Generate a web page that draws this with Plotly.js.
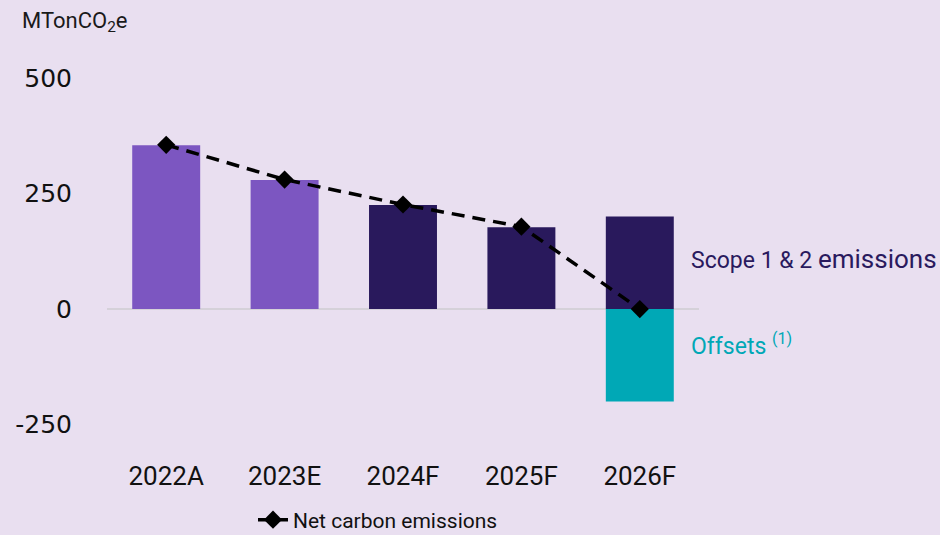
<!DOCTYPE html>
<html>
<head>
<meta charset="utf-8">
<script src="https://cdn.plot.ly/plotly-3.0.1.min.js"></script>
<style>
html,body{margin:0;padding:0;background:#e9dff0;}
#chart{width:940px;height:535px;}
</style>
</head>
<body>
<div id="chart"></div>
<script>
const categories = ['2022A', '2023E', '2024F', '2025F', '2026F'];
const scopeEmissions = [354, 279, 225, 177, 200];
const offsets = [null, null, null, null, -200];
const netEmissions = [355, 280, 226, 178, 0];
const scopeColors = ['#7c56c1', '#7c56c1', '#29195c', '#29195c', '#29195c'];
const yTickVals = [-250, 0, 250, 500];
const yTickText = ['-250', '0', '250', '500'];

const condensed = '"Liberation Sans Narrow", Roboto, sans-serif';

const traces = [
  {
    type: 'bar', name: 'Scope 1 & 2 emissions', x: categories, y: scopeEmissions,
    marker: {color: scopeColors}, showlegend: false, hoverinfo: 'x+y'
  },
  {
    type: 'bar', name: 'Offsets', x: categories, y: offsets,
    marker: {color: '#00a8b6'}, showlegend: false, hoverinfo: 'x+y'
  },
  {
    type: 'scatter', mode: 'lines+markers', name: 'Net carbon emissions',
    x: categories, y: netEmissions,
    line: {color: '#000000', width: 3.5, dash: '13px,8px'},
    marker: {symbol: 'diamond', size: 14, color: '#000000'}
  }
];

const layout = {
  width: 940, height: 535,
  margin: {l: 107, r: 241, t: 50, b: 83},
  paper_bgcolor: '#e9dff0',
  plot_bgcolor: 'rgba(0,0,0,0)',
  barmode: 'relative',
  bargap: 0.426,
  title: {
    text: 'MTonCO<sub>2</sub>e',
    x: 22/940, xanchor: 'left', xref: 'container',
    y: 1 - 20/535, yanchor: 'middle', yref: 'container',
    font: {family: condensed, size: 22, color: '#1a1a1a'}
  },
  xaxis: {
    type: 'category',
    range: [-0.5, 4.5],
    showgrid: false, showline: false, zeroline: false,
    ticks: '',
    ticklabelstandoff: 6,
    tickfont: {family: condensed, size: 26, color: '#111111'}
  },
  yaxis: {
    range: [-309, 560],
    tickvals: yTickVals, ticktext: yTickText,
    showgrid: false, showline: false,
    zeroline: true, zerolinecolor: '#d5d1d9', zerolinewidth: 2,
    ticks: '',
    ticklabelstandoff: 34,
    tickfont: {family: '"DejaVu Sans", sans-serif', size: 25, color: '#111111'}
  },
  showlegend: true,
  legend: {
    orientation: 'h',
    xref: 'container', yref: 'container',
    x: 253/940, xanchor: 'left',
    y: 1 - 520/535, yanchor: 'middle',
    bgcolor: 'rgba(0,0,0,0)',
    font: {family: condensed, size: 21, color: '#111111'}
  },
  annotations: [
    {
      xref: 'paper', yref: 'y', x: (689-107)/592, y: 108,
      xanchor: 'left', yanchor: 'middle', showarrow: false,
      text: 'Scope 1 &amp; 2 <span style="font-size:26px">emissions</span>',
      font: {family: condensed, size: 23, color: '#2a1a5e'}
    },
    {
      xref: 'paper', yref: 'y', x: (689-107)/592, y: -76,
      xanchor: 'left', yanchor: 'middle', showarrow: false,
      text: 'Offsets <sup>(1)</sup>',
      font: {family: condensed, size: 23, color: '#00a8b6'}
    }
  ]
};

Plotly.newPlot('chart', traces, layout, {displayModeBar: false, staticPlot: true});
</script>
</body>
</html>
